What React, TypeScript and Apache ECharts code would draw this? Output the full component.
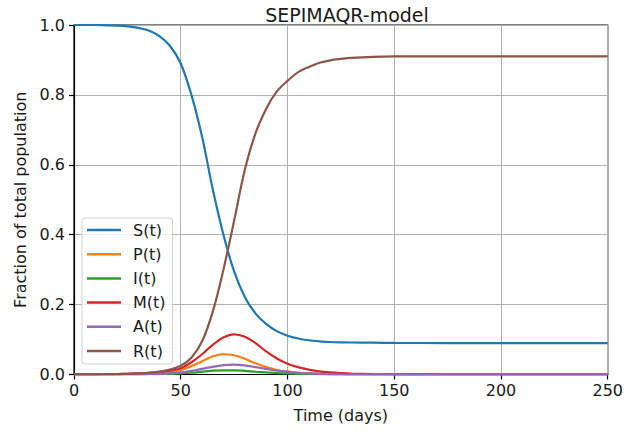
import React, { useEffect, useRef } from "react";
import * as echarts from "echarts";

// Time points (days)
const days = [
  0, 5, 10, 15, 20, 25, 30, 35, 40, 45, 50, 55, 60, 65, 70, 75, 80, 85, 90, 95,
  100, 105, 110, 115, 120, 125, 130, 140, 150, 175, 200, 225, 250,
];

// Compartment fractions at each time point
const sVals = [
  1.0, 1.0, 1.0, 0.999, 0.998, 0.996, 0.992, 0.984, 0.968, 0.94, 0.89, 0.8,
  0.68, 0.53, 0.4, 0.295, 0.222, 0.175, 0.145, 0.124, 0.111, 0.103, 0.098,
  0.095, 0.093, 0.092, 0.0915, 0.091, 0.0905, 0.09, 0.09, 0.09, 0.09,
];
const pVals = [
  0.0005, 0.0005, 0.0006, 0.0008, 0.001, 0.0015, 0.002, 0.003, 0.005, 0.008,
  0.013, 0.024, 0.038, 0.052, 0.058, 0.055, 0.045, 0.032, 0.021, 0.013, 0.008,
  0.005, 0.003, 0.002, 0.001, 0.0007, 0.0004, 0.0002, 0.0001, 0, 0, 0, 0,
];
const iVals = [
  0.0002, 0.0002, 0.0002, 0.0003, 0.0003, 0.0004, 0.0005, 0.0007, 0.001,
  0.0018, 0.003, 0.005, 0.008, 0.011, 0.012, 0.012, 0.0105, 0.008, 0.006,
  0.004, 0.003, 0.002, 0.001, 0.0008, 0.0005, 0.0003, 0.0002, 0.0001, 0, 0, 0,
  0, 0,
];
const mVals = [
  0.001, 0.001, 0.001, 0.0012, 0.0015, 0.002, 0.003, 0.005, 0.007, 0.011,
  0.018, 0.035, 0.058, 0.085, 0.106, 0.115, 0.108, 0.09, 0.066, 0.046, 0.031,
  0.021, 0.014, 0.009, 0.006, 0.004, 0.0025, 0.001, 0.0005, 0, 0, 0, 0,
];
const aVals = [
  0.0003, 0.0003, 0.0004, 0.0005, 0.0006, 0.0008, 0.001, 0.0015, 0.002, 0.003,
  0.006, 0.01, 0.016, 0.022, 0.027, 0.028, 0.026, 0.021, 0.016, 0.011, 0.008,
  0.005, 0.003, 0.002, 0.001, 0.0007, 0.0005, 0.0002, 0.0001, 0, 0, 0, 0,
];
const rVals = [
  0, 0.0003, 0.0005, 0.0008, 0.001, 0.002, 0.003, 0.005, 0.008, 0.014, 0.025,
  0.048, 0.095, 0.18, 0.3, 0.44, 0.585, 0.69, 0.76, 0.81, 0.84, 0.865, 0.88,
  0.892, 0.899, 0.903, 0.906, 0.909, 0.91, 0.91, 0.91, 0.91, 0.91,
];

const seriesNames = ["S(t)", "P(t)", "I(t)", "M(t)", "A(t)", "R(t)"];
const seriesValues = [sVals, pVals, iVals, mVals, aVals, rVals];
const colors = ["#1f77b4", "#ff7f0e", "#2ca02c", "#d62728", "#9467bd", "#8c564b"];

const xTicks = [0, 50, 100, 150, 200, 250];
const yTicks = [0, 0.2, 0.4, 0.6, 0.8, 1.0];

const FONT = "DejaVu Sans";
const TEXT_COLOR = "#1a1a1a";

export default function App() {
  const ref = useRef<HTMLDivElement>(null);

  useEffect(() => {
    if (!ref.current) return;
    const chart = echarts.init(ref.current, undefined, { renderer: "svg" });

    const axisCommon = {
      axisLine: { show: true, lineStyle: { color: "#000", width: 1.2 } },
      axisTick: { show: true, inside: false, length: 5, lineStyle: { color: "#000", width: 1.2 } },
      splitLine: { show: true, lineStyle: { color: "#b0b0b0", width: 1 } },
      nameTextStyle: { fontFamily: FONT, fontSize: 16, color: TEXT_COLOR },
    };

    chart.setOption({
      animation: false,
      backgroundColor: "#fff",
      color: colors,
      title: {
        text: "SEPIMAQR-model",
        left: 342,
        top: 0,
        textAlign: "center",
        textStyle: { fontFamily: FONT, fontSize: 19, fontWeight: "normal", color: TEXT_COLOR },
      },
      grid: {
        left: 74,
        right: 15,
        top: 25,
        bottom: 57.5,
        show: true,
        borderColor: "#000",
        borderWidth: 1.2,
        backgroundColor: "transparent",
      },
      legend: {
        orient: "vertical",
        left: 82,
        top: 218,
        data: seriesNames,
        icon: "rect",
        itemWidth: 34,
        itemHeight: 2.5,
        itemGap: 8.2,
        padding: [4, 7, 5, 5],
        backgroundColor: "rgba(255,255,255,0.8)",
        borderColor: "#d0d0d0",
        borderWidth: 1,
        borderRadius: 3,
        textStyle: { fontFamily: FONT, fontSize: 16, color: TEXT_COLOR, padding: [0, 0, 0, 7] },
      },
      xAxis: {
        type: "value",
        min: 0,
        max: 250,
        interval: 50,
        name: "Time (days)",
        nameLocation: "middle",
        nameGap: 33,
        ...axisCommon,
        axisLabel: {
          fontFamily: FONT,
          fontSize: 16,
          color: TEXT_COLOR,
          margin: 8,
          formatter: (v: number) => (xTicks.includes(v) ? String(v) : ""),
        },
      },
      yAxis: {
        type: "value",
        min: 0,
        max: 1,
        interval: 0.2,
        name: "Fraction of total population",
        nameLocation: "middle",
        nameGap: 46,
        ...axisCommon,
        axisLabel: {
          fontFamily: FONT,
          fontSize: 16,
          color: TEXT_COLOR,
          margin: 9,
          formatter: (v: number) => {
            const t = yTicks.find((y) => Math.abs(y - v) < 1e-9);
            return t === undefined ? "" : t.toFixed(1);
          },
        },
      },
      series: seriesNames.map((name, k) => ({
        name,
        type: "line",
        data: days.map((d, i) => [d, seriesValues[k][i]]),
        smooth: 0.35,
        showSymbol: false,
        symbol: "none",
        lineStyle: { width: 2.2, color: colors[k] },
        itemStyle: { color: colors[k] },
        clip: true,
      })),
    });

    return () => chart.dispose();
  }, []);

  return (
    <div
      ref={ref}
      style={{ position: "fixed", left: 0, top: 0, width: 626, height: 432 }}
    />
  );
}
